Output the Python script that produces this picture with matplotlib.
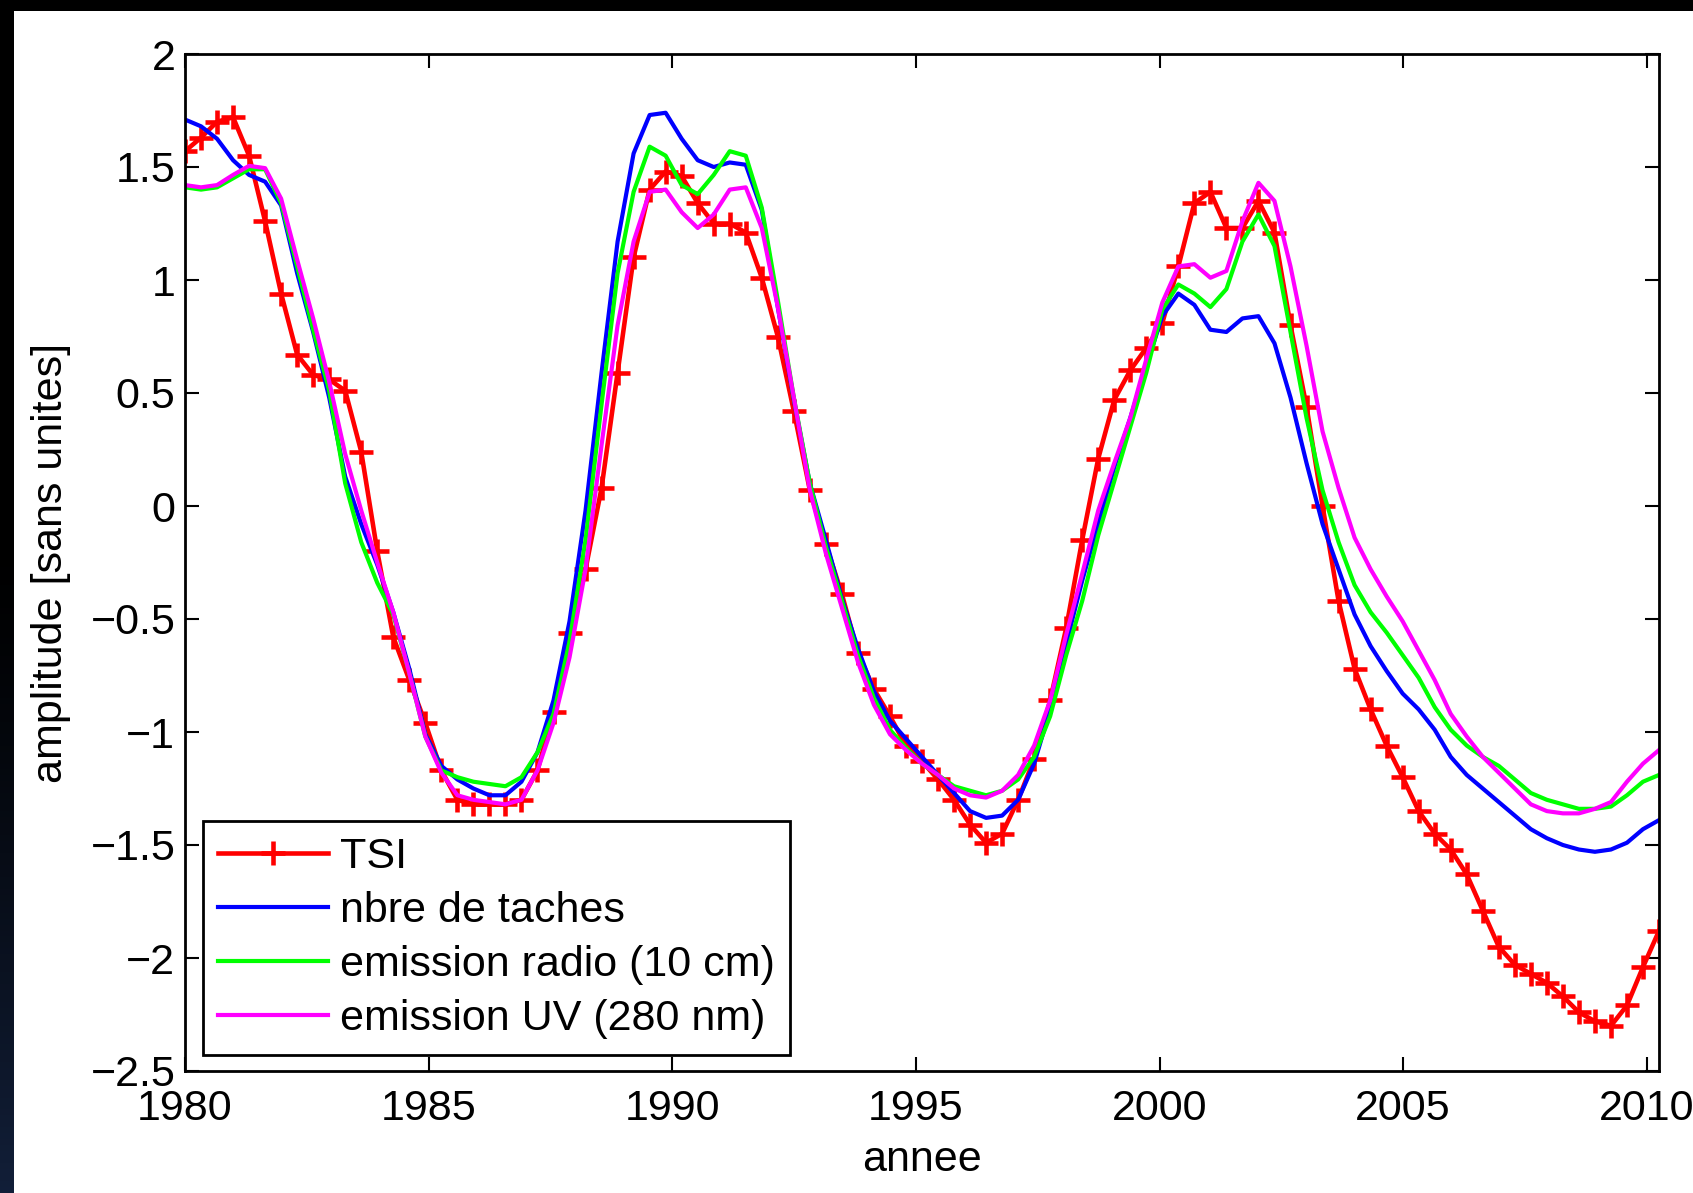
import numpy as np
import matplotlib.pyplot as plt
from matplotlib.ticker import FuncFormatter

plt.rcParams['font.family'] = ['Liberation Sans', 'DejaVu Sans']

# time axis: one sample every ~4 months
annee = np.linspace(1980, 2010.25, 93)

tsi = [1.57, 1.63, 1.70, 1.72, 1.55, 1.26, 0.94, 0.67, 0.58, 0.56,
       0.51, 0.24, -0.20, -0.58, -0.77, -0.96, -1.17, -1.30, -1.32, -1.32,
       -1.32, -1.30, -1.17, -0.91, -0.56, -0.28, 0.08, 0.59, 1.10, 1.40,
       1.48, 1.46, 1.34, 1.25, 1.25, 1.21, 1.01, 0.75, 0.42, 0.07,
       -0.17, -0.39, -0.65, -0.81, -0.93, -1.06, -1.13, -1.21, -1.30, -1.41,
       -1.49, -1.45, -1.30, -1.12, -0.86, -0.54, -0.15, 0.21, 0.47, 0.60,
       0.70, 0.81, 1.06, 1.34, 1.39, 1.23, 1.23, 1.35, 1.21, 0.80,
       0.44, 0.00, -0.42, -0.72, -0.90, -1.06, -1.20, -1.35, -1.45, -1.52,
       -1.63, -1.79, -1.95, -2.03, -2.07, -2.11, -2.17, -2.24, -2.28, -2.30,
       -2.21, -2.04, -1.88]

taches = [1.71, 1.68, 1.625, 1.53, 1.465, 1.435, 1.33, 1.03, 0.77, 0.48,
          0.13, -0.08, -0.26, -0.47, -0.72, -1.01, -1.15, -1.21, -1.25, -1.28,
          -1.28, -1.22, -1.09, -0.86, -0.51, -0.02, 0.59, 1.17, 1.56, 1.73,
          1.74, 1.625, 1.53, 1.50, 1.52, 1.51, 1.31, 0.88, 0.47, 0.10,
          -0.15, -0.41, -0.63, -0.82, -0.95, -1.03, -1.11, -1.19, -1.27, -1.35,
          -1.38, -1.37, -1.30, -1.14, -0.90, -0.61, -0.33, -0.08, 0.17, 0.39,
          0.62, 0.84, 0.94, 0.89, 0.78, 0.77, 0.83, 0.84, 0.72, 0.48,
          0.19, -0.08, -0.28, -0.48, -0.62, -0.73, -0.83, -0.90, -0.99, -1.11,
          -1.19, -1.25, -1.31, -1.37, -1.43, -1.47, -1.50, -1.52, -1.53, -1.52,
          -1.49, -1.43, -1.39]

radio = [1.41, 1.40, 1.41, 1.45, 1.49, 1.49, 1.34, 1.06, 0.78, 0.51,
         0.10, -0.16, -0.34, -0.48, -0.74, -1.02, -1.17, -1.20, -1.22, -1.23,
         -1.24, -1.20, -1.09, -0.92, -0.60, -0.15, 0.45, 1.03, 1.39, 1.59,
         1.55, 1.42, 1.38, 1.465, 1.57, 1.55, 1.32, 0.91, 0.48, 0.10,
         -0.18, -0.42, -0.66, -0.85, -0.99, -1.07, -1.14, -1.19, -1.24, -1.26,
         -1.28, -1.26, -1.21, -1.11, -0.93, -0.66, -0.42, -0.13, 0.11, 0.35,
         0.59, 0.87, 0.98, 0.94, 0.88, 0.96, 1.17, 1.29, 1.15, 0.77,
         0.39, 0.07, -0.16, -0.35, -0.47, -0.56, -0.66, -0.76, -0.89, -0.99,
         -1.06, -1.11, -1.15, -1.21, -1.27, -1.30, -1.32, -1.34, -1.34, -1.33,
         -1.28, -1.22, -1.19]

uv = [1.42, 1.41, 1.42, 1.465, 1.505, 1.495, 1.36, 1.09, 0.83, 0.55,
      0.23, -0.02, -0.25, -0.47, -0.74, -1.02, -1.18, -1.28, -1.30, -1.31,
      -1.32, -1.30, -1.17, -0.96, -0.67, -0.28, 0.27, 0.80, 1.17, 1.39,
      1.40, 1.30, 1.23, 1.29, 1.40, 1.41, 1.23, 0.88, 0.48, 0.07,
      -0.21, -0.45, -0.69, -0.88, -1.01, -1.08, -1.14, -1.19, -1.25, -1.28,
      -1.29, -1.26, -1.19, -1.06, -0.86, -0.57, -0.30, -0.02, 0.19, 0.39,
      0.65, 0.90, 1.06, 1.07, 1.01, 1.04, 1.26, 1.43, 1.35, 1.06,
      0.71, 0.33, 0.08, -0.14, -0.28, -0.40, -0.51, -0.64, -0.77, -0.92,
      -1.02, -1.11, -1.18, -1.25, -1.32, -1.35, -1.36, -1.36, -1.34, -1.31,
      -1.22, -1.14, -1.08]

xticks = [1980, 1985, 1990, 1995, 2000, 2005, 2010]
yticks = [-2.5, -2, -1.5, -1, -0.5, 0, 0.5, 1, 1.5, 2]

fs = 31
W, H = 1693, 1193

fig = plt.figure(figsize=(W / 100, H / 100), dpi=100, facecolor='white')

# dark slide border on the top and left edges
top = fig.add_axes([0, 1 - 11 / H, 1, 11 / H])
top.set_axis_off()
top.add_patch(plt.Rectangle((0, 0), 1, 1, color='black', transform=top.transAxes))
strip = fig.add_axes([0, 0, 14 / W, 1])
t = np.linspace(0, 1, 200)
shade = np.clip((t - 0.45) / 0.55, 0, 1) ** 1.3
grad = np.stack([0.07 * shade, 0.12 * shade, 0.22 * shade], axis=-1)[:, None, :]
strip.imshow(grad, aspect='auto', extent=[0, 1, 1, 0])
strip.set_axis_off()

ax = fig.add_axes([185 / W, (H - 1071) / H, (1659 - 185) / W, (1071 - 54) / H])

ax.plot(annee, tsi, color='#ff0000', lw=3.3, marker='+', ms=17, mew=3.3,
        label='TSI')
ax.plot(annee, taches, color='#0000ff', lw=3, label='nbre de taches')
ax.plot(annee, radio, color='#00ff00', lw=3, label='emission radio (10 cm)')
ax.plot(annee, uv, color='#ff00ff', lw=3, label='emission UV (280 nm)')

ax.set_xlim(1980, 2010.25)
ax.set_ylim(-2.5, 2)
ax.set_xticks(xticks)
ax.set_yticks(yticks)
ax.yaxis.set_major_formatter(
    FuncFormatter(lambda v, p: f'{v:g}'.replace('-', '\u2212')))
ax.tick_params(direction='in', top=True, right=True, length=10, width=1.5,
               labelsize=fs)
ax.tick_params(axis='x', pad=13)
ax.tick_params(axis='y', pad=7)
for s in ax.spines.values():
    s.set_linewidth(2)

ax.set_xlabel('annee', fontsize=fs, labelpad=8)
ax.set_ylabel('amplitude [sans unites]', fontsize=fs, labelpad=14)

leg = ax.legend(loc='lower left', bbox_to_anchor=(0.012, 0.016), fontsize=fs,
                fancybox=False, framealpha=1, edgecolor='black',
                handlelength=2.55, handletextpad=0.28, labelspacing=0.33,
                borderpad=0.36, borderaxespad=0)
leg.get_frame().set_linewidth(2)

fig.savefig('out.png', dpi=100)
